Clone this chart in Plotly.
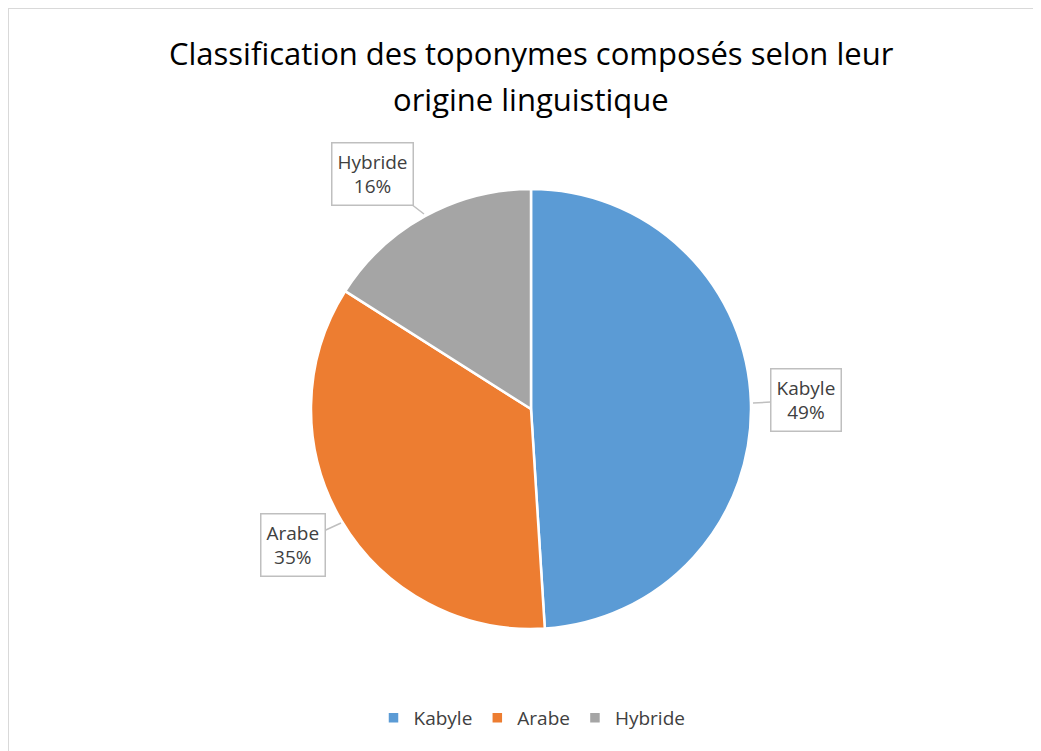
import plotly.graph_objects as go

labels = ["Kabyle", "Arabe", "Hybride"]
values = [49, 35, 16]
colors = ["#5B9BD5", "#ED7D31", "#A5A5A5"]
title_lines = ["Classification des toponymes composés selon leur", "origine linguistique"]

W, H = 1041, 751
OFF = 8  # page body margin in the screenshot
total = sum(values)


def px(x):
    return (x - OFF) / W


def py(y):
    return 1 - (y - OFF) / H


fig = go.Figure()
fig.add_trace(go.Pie(
    labels=labels, values=values, sort=False, direction="clockwise", rotation=0,
    marker=dict(colors=colors, line=dict(color="white", width=2.5)),
    textinfo="none", hoverinfo="label+percent",
    domain=dict(x=[px(311), px(751)], y=[py(629), py(189)]),
))

# callout boxes: (box centre) and (pointer tip) in screen pixels
box_pos = {"Kabyle": (806, 400), "Arabe": (293, 545), "Hybride": (372, 174)}
tip_pos = {"Kabyle": (753, 403), "Arabe": (341, 523), "Hybride": (424, 214)}
annotations = []
for lab, v in zip(labels, values):
    bx, by = box_pos[lab]
    tx, ty = tip_pos[lab]
    annotations.append(dict(
        x=px(tx), y=py(ty), xref="paper", yref="paper",
        ax=bx - tx, ay=by - ty, axref="pixel", ayref="pixel",
        text=f"{lab}<br>{round(v / total * 100)}%", showarrow=True,
        arrowhead=0, arrowwidth=1.5, arrowcolor="#BFBFBF", standoff=0,
        font=dict(family="Open Sans", size=19, color="#404040"),
        bgcolor="white", bordercolor="#BFBFBF", borderwidth=1.5, borderpad=5,
        align="center",
    ))

# title, two lines with wide spacing
for line, yc in zip(title_lines, [53, 99]):
    annotations.append(dict(
        x=px(531), y=py(yc), xref="paper", yref="paper", xanchor="center", yanchor="middle",
        text=line, showarrow=False,
        font=dict(family="Open Sans", size=31, color="#000000"),
    ))

fig.update_layout(
    width=W, height=H, margin=dict(l=0, r=0, t=0, b=0),
    paper_bgcolor="white", plot_bgcolor="white",
    legend=dict(orientation="h", x=px(532), xanchor="center", y=py(718), yanchor="middle",
                font=dict(family="Open Sans", size=19, color="#404040"), itemwidth=30,
                traceorder="normal"),
    annotations=annotations,
    shapes=[
        dict(type="line", xref="paper", yref="paper", x0=px(8), x1=1.0, y0=1.0, y1=1.0,
             line=dict(color="#D9D9D9", width=2)),
        dict(type="line", xref="paper", yref="paper", x0=px(8), x1=px(8), y0=0, y1=1.0,
             line=dict(color="#D9D9D9", width=2)),
    ],
)

fig.write_html("out.html")
